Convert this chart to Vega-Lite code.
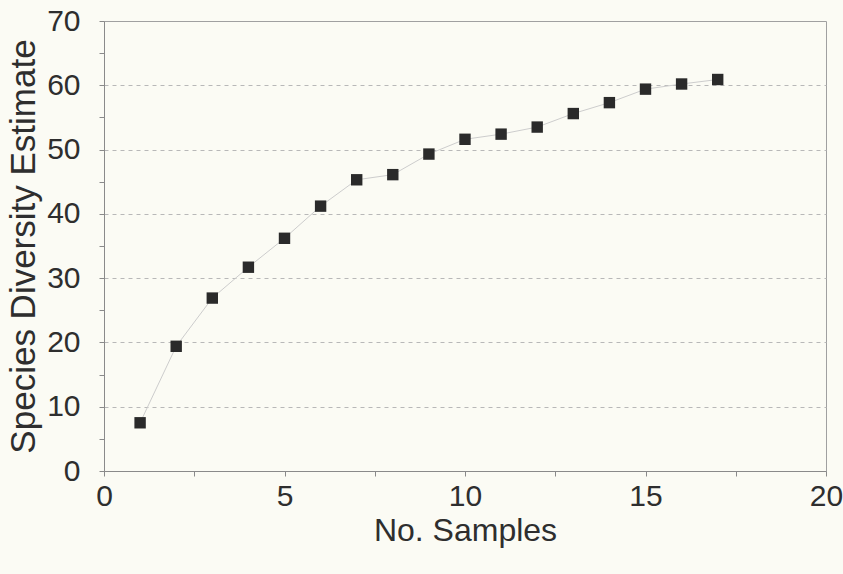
{
  "$schema": "https://vega.github.io/schema/vega-lite/v6.json",
  "width": 722,
  "height": 450,
  "autosize": {"type": "none"},
  "padding": {"left": 104, "top": 21, "right": 17, "bottom": 103},
  "background": "#fbfbf4",
  "config": {
    "view": {"stroke": "#a0a0a0", "strokeWidth": 1},
    "font": "Liberation Sans",
    "axis": {
      "labelFont": "Liberation Sans",
      "titleFont": "Liberation Sans",
      "labelColor": "#2e2e2e",
      "titleColor": "#2e2e2e",
      "titleFontWeight": "normal",
      "domainColor": "#8a8a8a",
      "tickColor": "#8a8a8a",
      "labelFontSize": 30
    }
  },
  "data": {
    "values": [
      {"samples": 1, "estimate": 7.5},
      {"samples": 2, "estimate": 19.4},
      {"samples": 3, "estimate": 26.9},
      {"samples": 4, "estimate": 31.7},
      {"samples": 5, "estimate": 36.2},
      {"samples": 6, "estimate": 41.2},
      {"samples": 7, "estimate": 45.3},
      {"samples": 8, "estimate": 46.1},
      {"samples": 9, "estimate": 49.3},
      {"samples": 10, "estimate": 51.6},
      {"samples": 11, "estimate": 52.4},
      {"samples": 12, "estimate": 53.5},
      {"samples": 13, "estimate": 55.6},
      {"samples": 14, "estimate": 57.3},
      {"samples": 15, "estimate": 59.4},
      {"samples": 16, "estimate": 60.2},
      {"samples": 17, "estimate": 60.9}
    ]
  },
  "encoding": {
    "x": {
      "field": "samples",
      "type": "quantitative",
      "scale": {"domain": [0, 20], "nice": false, "zero": true},
      "axis": {
        "title": "No. Samples",
        "titleFontSize": 32,
        "values": [0, 2.5, 5, 7.5, 10, 12.5, 15, 17.5, 20],
        "labelExpr": "datum.value % 5 == 0 ? datum.label : ''",
        "grid": false,
        "tickSize": 5,
        "labelPadding": 5,
        "titlePadding": 4,
        "labelFlush": false
      }
    },
    "y": {
      "field": "estimate",
      "type": "quantitative",
      "scale": {"domain": [0, 70], "nice": false},
      "axis": {
        "title": "Species Diversity Estimate",
        "titleFontSize": 35,
        "values": [0, 5, 10, 15, 20, 25, 30, 35, 40, 45, 50, 55, 60, 65, 70],
        "labelExpr": "datum.value % 10 == 0 ? datum.label : ''",
        "grid": true,
        "gridColor": "#b8b8b8",
        "gridDash": [4, 4],
        "gridOpacity": {"condition": {"test": "datum.value % 10 == 0 && datum.value > 0 && datum.value < 70", "value": 1}, "value": 0},
        "tickSize": 5,
        "labelPadding": 19,
        "titlePadding": 5,
        "labelFlush": false
      }
    }
  },
  "layer": [
    {"mark": {"type": "line", "color": "#cdcdcd", "strokeWidth": 1}},
    {"mark": {"type": "point", "shape": "square", "filled": true, "size": 130, "color": "#2a2a2a", "opacity": 1}}
  ]
}
